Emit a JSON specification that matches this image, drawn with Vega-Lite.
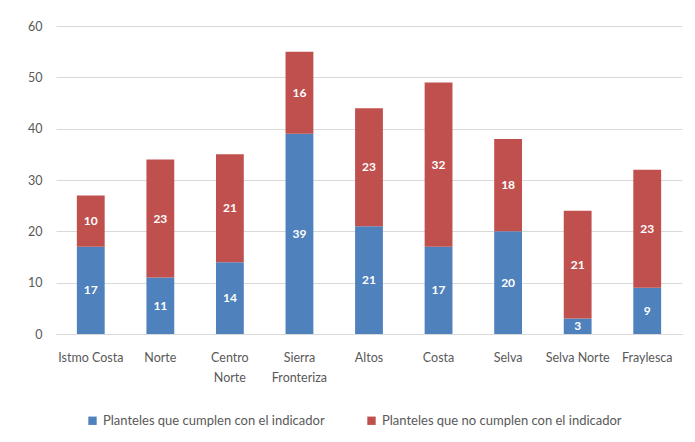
{
  "$schema": "https://vega.github.io/schema/vega-lite/v6.json",
  "width": 626,
  "height": 308,
  "autosize": {"type": "none"},
  "padding": {"left": 56, "top": 26, "right": 13, "bottom": 108},
  "background": "white",
  "config": {
    "font": "Lato",
    "view": {"stroke": null},
    "axis": {"labelFont": "Lato", "labelFontSize": 12.5, "labelColor": "#595959"}
  },
  "data": {
    "values": [
      {"region": "Istmo Costa", "serie": "Planteles que cumplen con el indicador", "orden": 1, "n": 17},
      {"region": "Istmo Costa", "serie": "Planteles que no cumplen con el indicador", "orden": 2, "n": 10},
      {"region": "Norte", "serie": "Planteles que cumplen con el indicador", "orden": 1, "n": 11},
      {"region": "Norte", "serie": "Planteles que no cumplen con el indicador", "orden": 2, "n": 23},
      {"region": "Centro Norte", "serie": "Planteles que cumplen con el indicador", "orden": 1, "n": 14},
      {"region": "Centro Norte", "serie": "Planteles que no cumplen con el indicador", "orden": 2, "n": 21},
      {"region": "Sierra Fronteriza", "serie": "Planteles que cumplen con el indicador", "orden": 1, "n": 39},
      {"region": "Sierra Fronteriza", "serie": "Planteles que no cumplen con el indicador", "orden": 2, "n": 16},
      {"region": "Altos", "serie": "Planteles que cumplen con el indicador", "orden": 1, "n": 21},
      {"region": "Altos", "serie": "Planteles que no cumplen con el indicador", "orden": 2, "n": 23},
      {"region": "Costa", "serie": "Planteles que cumplen con el indicador", "orden": 1, "n": 17},
      {"region": "Costa", "serie": "Planteles que no cumplen con el indicador", "orden": 2, "n": 32},
      {"region": "Selva", "serie": "Planteles que cumplen con el indicador", "orden": 1, "n": 20},
      {"region": "Selva", "serie": "Planteles que no cumplen con el indicador", "orden": 2, "n": 18},
      {"region": "Selva Norte", "serie": "Planteles que cumplen con el indicador", "orden": 1, "n": 3},
      {"region": "Selva Norte", "serie": "Planteles que no cumplen con el indicador", "orden": 2, "n": 21},
      {"region": "Fraylesca", "serie": "Planteles que cumplen con el indicador", "orden": 1, "n": 9},
      {"region": "Fraylesca", "serie": "Planteles que no cumplen con el indicador", "orden": 2, "n": 23}
    ]
  },
  "encoding": {
    "x": {
      "field": "region",
      "type": "nominal",
      "sort": null,
      "scale": {"paddingInner": 0.6, "paddingOuter": 0.3},
      "axis": {
        "title": null,
        "labelAngle": 0,
        "ticks": false,
        "domainColor": "#D9D9D9",
        "labelPadding": 17,
        "labelLineHeight": 20,
        "labelExpr": "datum.label == 'Centro Norte' ? ['Centro', 'Norte'] : datum.label == 'Sierra Fronteriza' ? ['Sierra', 'Fronteriza'] : datum.label"
      }
    },
    "y": {
      "field": "n",
      "type": "quantitative",
      "stack": "zero",
      "scale": {"domain": [0, 60]},
      "axis": {
        "title": null,
        "values": [0, 10, 20, 30, 40, 50, 60],
        "domain": false,
        "ticks": false,
        "gridColor": "#D9D9D9",
        "labelPadding": 14
      }
    },
    "order": {"field": "orden", "type": "quantitative"}
  },
  "layer": [
    {
      "mark": {"type": "bar"},
      "encoding": {
        "color": {
          "field": "serie",
          "type": "nominal",
          "scale": {
            "domain": ["Planteles que cumplen con el indicador", "Planteles que no cumplen con el indicador"],
            "range": ["#4F81BD", "#C0504D"]
          },
          "legend": {
            "title": null,
            "orient": "none",
            "direction": "horizontal",
            "legendX": 30,
            "legendY": 388,
            "symbolType": "square",
            "symbolSize": 70,
            "symbolStrokeWidth": 0,
            "labelFont": "Lato",
            "labelFontSize": 13,
            "labelColor": "#595959",
            "labelLimit": 0,
            "columnPadding": 40,
            "labelOffset": 4
          }
        }
      }
    },
    {
      "mark": {"type": "text", "color": "white", "fontWeight": "bold", "fontSize": 12, "baseline": "middle"},
      "encoding": {
        "y": {"field": "n", "type": "quantitative", "stack": "zero", "bandPosition": 0.5},
        "text": {"field": "n", "type": "quantitative"},
        "detail": {"field": "serie", "type": "nominal"}
      }
    }
  ]
}
